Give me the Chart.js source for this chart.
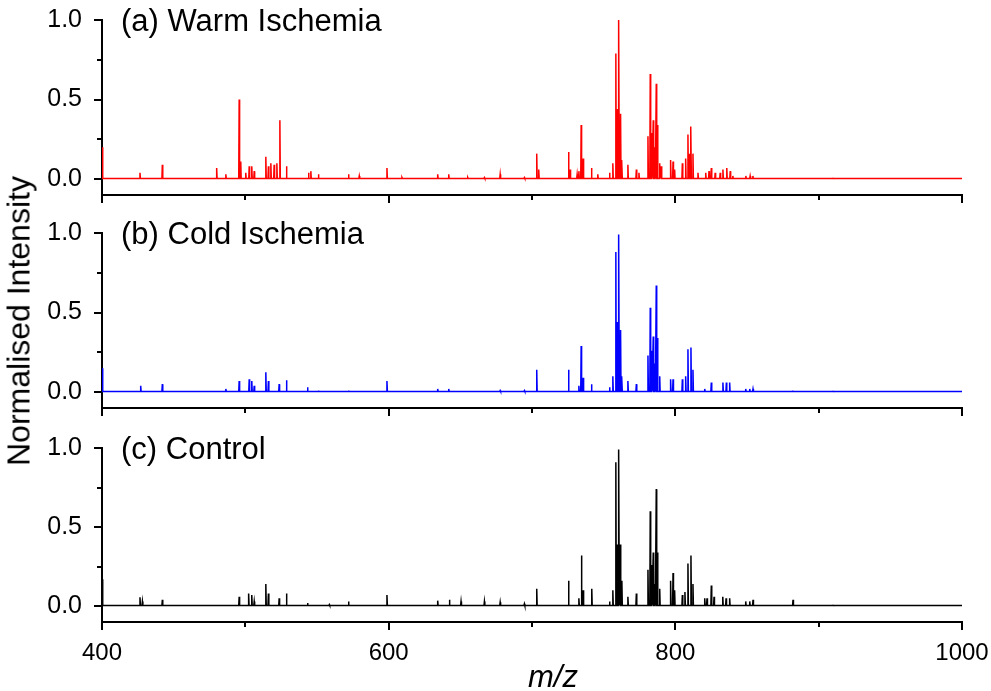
<!DOCTYPE html>
<html>
<head>
<meta charset="utf-8">
<script src="https://cdn.jsdelivr.net/npm/chart.js@4/dist/chart.umd.min.js"></script>
<style>
  body { margin: 0; background: #fff; overflow: hidden; }
  #wrap { position: relative; width: 991px; height: 691px; overflow: hidden; background: #fff; font-family: "Liberation Sans", Arial, sans-serif; }
  #wrap canvas { position: absolute; left: 0; }
  .ytitle { position: absolute; left: 19px; top: 321px; transform: translate(-50%, -50%) rotate(-90deg); font-size: 32px; white-space: nowrap; color: #000; }
  .xtitle { position: absolute; left: 553px; top: 677px; transform: translate(-50%, -50%); font-size: 31px; font-style: italic; color: #000; }
</style>
</head>
<body>
<div id="wrap">
  <canvas id="warm" width="1020" height="235" style="top:-10px"></canvas>
  <canvas id="cold" width="1020" height="235" style="top:203px"></canvas>
  <canvas id="ctrl" width="1020" height="273" style="top:418px"></canvas>
  <div class="ytitle">Normalised Intensity</div>
  <div class="xtitle">m/z</div>
</div>
<script>
// peak lists (m/z, normalised intensity)
var warmMz = [400.2, 426.5, 442.1, 480.0, 486.4, 495.7, 496.8, 500.3, 502.7, 504.5, 506.2, 514.3, 516.1, 517.8, 520.1, 522.0, 524.1, 528.7, 544.1, 545.7, 551.0, 572.0, 579.5, 598.8, 609.3, 634.2, 641.9, 655.2, 666.8, 677.8, 694.7, 703.3, 704.7, 725.5, 726.6, 731.5, 732.7, 734.3, 735.7, 741.5, 745.9, 754.1, 756.4, 758.5, 759.7, 760.6, 761.8, 762.7, 766.9, 772.8, 774.6, 780.9, 782.5, 783.5, 784.6, 785.8, 786.7, 787.6, 789.1, 790.2, 796.7, 798.4, 799.5, 804.9, 807.2, 808.8, 810.0, 810.9, 812.3, 815.8, 821.2, 823.5, 825.1, 827.8, 831.3, 833.2, 835.9, 838.3, 840.1, 849.2, 852.2, 854.1, 910.0];
var warmInt = [0.20, 0.04, 0.09, 0.07, 0.03, 0.50, 0.11, 0.04, 0.08, 0.08, 0.05, 0.14, 0.08, 0.10, 0.09, 0.10, 0.37, 0.08, 0.04, 0.05, 0.03, 0.03, 0.02, 0.07, 0.01, 0.03, 0.03, 0.01, 0.01, 0.03, 0.01, 0.16, 0.06, 0.17, 0.06, 0.03, 0.05, 0.34, 0.13, 0.07, 0.03, 0.04, 0.10, 0.79, 0.44, 1.00, 0.41, 0.12, 0.09, 0.06, 0.04, 0.27, 0.66, 0.29, 0.37, 0.20, 0.60, 0.34, 0.10, 0.08, 0.12, 0.11, 0.06, 0.10, 0.13, 0.28, 0.16, 0.33, 0.16, 0.04, 0.04, 0.05, 0.07, 0.04, 0.04, 0.06, 0.07, 0.05, 0.02, 0.02, 0.02, 0.02, 0.005];

var coldMz = [400.2, 427.0, 442.1, 486.4, 495.7, 502.7, 504.5, 506.2, 514.3, 516.1, 523.6, 528.7, 543.4, 551.0, 572.0, 598.8, 634.2, 641.9, 677.8, 694.7, 703.3, 725.5, 732.7, 734.3, 735.7, 741.5, 754.1, 756.4, 758.5, 759.7, 760.6, 761.8, 762.7, 766.9, 772.8, 780.9, 782.5, 783.5, 784.6, 785.8, 786.7, 787.6, 789.1, 796.7, 798.4, 804.9, 807.2, 808.8, 810.9, 812.3, 820.5, 825.1, 833.2, 835.6, 837.9, 849.1, 851.9, 854.2, 881.7, 910.0];
var coldInt = [0.15, 0.04, 0.05, 0.02, 0.07, 0.08, 0.07, 0.04, 0.125, 0.07, 0.05, 0.075, 0.03, 0.01, 0.01, 0.07, 0.02, 0.02, 0.01, 0.01, 0.14, 0.14, 0.04, 0.29, 0.09, 0.05, 0.03, 0.10, 0.88, 0.44, 0.99, 0.39, 0.10, 0.07, 0.05, 0.23, 0.53, 0.26, 0.35, 0.18, 0.67, 0.34, 0.10, 0.08, 0.08, 0.08, 0.10, 0.27, 0.28, 0.14, 0.02, 0.06, 0.06, 0.06, 0.06, 0.02, 0.02, 0.02, 0.01, 0.005];

var ctrlMz = [400.2, 426.5, 428.2, 442.1, 495.7, 502.3, 504.5, 506.2, 514.3, 516.1, 523.6, 528.7, 543.4, 558.6, 572.0, 598.8, 634.2, 642.4, 650.5, 666.8, 677.8, 694.7, 703.3, 725.5, 732.7, 734.5, 735.7, 741.7, 754.1, 756.4, 758.5, 759.7, 760.6, 761.6, 762.7, 766.9, 772.8, 780.9, 782.5, 783.5, 784.6, 785.8, 786.7, 787.6, 789.1, 796.7, 798.4, 799.5, 804.9, 806.7, 808.8, 810.9, 812.3, 820.5, 822.1, 825.1, 827.0, 833.1, 835.4, 837.9, 849.1, 851.9, 854.2, 882.1, 910.0];
var ctrlInt = [0.17, 0.056, 0.03, 0.04, 0.06, 0.08, 0.07, 0.03, 0.14, 0.08, 0.05, 0.08, 0.02, 0.01, 0.03, 0.07, 0.035, 0.04, 0.03, 0.03, 0.025, 0.015, 0.11, 0.16, 0.05, 0.32, 0.10, 0.11, 0.03, 0.10, 0.91, 0.39, 0.99, 0.39, 0.16, 0.06, 0.08, 0.23, 0.60, 0.26, 0.34, 0.14, 0.74, 0.34, 0.11, 0.16, 0.21, 0.10, 0.07, 0.09, 0.27, 0.32, 0.14, 0.05, 0.05, 0.13, 0.06, 0.06, 0.05, 0.05, 0.03, 0.03, 0.04, 0.04, 0.005];

var xTicks = [400, 600, 800, 1000];
var xMinorTicks = [500, 700, 900];
var yTicks = [0, 0.5, 1.0];
var yMinorTicks = [0.25, 0.75];
var baseline = 0.004;

// turn a peak list into a stick spectrum
function spectrum(mz, inten) {
    var pts = [{x: 400, y: baseline}];
    for (var i = 0; i < mz.length; i++) {
        pts.push({x: mz[i] - 0.3, y: baseline});
        pts.push({x: mz[i], y: inten[i]});
        pts.push({x: mz[i] + 0.3, y: baseline});
    }
    pts.push({x: 1000, y: baseline});
    return pts;
}

var minorTickPlugin = {
    id: 'minorTicks',
    afterDraw(chart) {
        var ctx = chart.ctx, a = chart.chartArea;
        var xs = chart.scales.x, ys = chart.scales.y;
        ctx.save();
        ctx.strokeStyle = '#000';
        ctx.lineWidth = 2;
        ctx.beginPath();
        xMinorTicks.forEach(v => {
            var px = Math.round(xs.getPixelForValue(v));
            ctx.moveTo(px, a.bottom);
            ctx.lineTo(px, a.bottom + 5);
        });
        yMinorTicks.forEach(v => {
            var py = Math.round(ys.getPixelForValue(v));
            ctx.moveTo(a.left, py);
            ctx.lineTo(a.left - 5, py);
        });
        ctx.stroke();
        // panel label
        var txt = chart.options.plugins.minorTicks.label;
        ctx.fillStyle = '#000';
        ctx.font = '31px "Liberation Sans", Arial, sans-serif';
        ctx.textBaseline = 'middle';
        ctx.textAlign = 'left';
        ctx.fillText(txt, a.left + 19, ys.getPixelForValue(1.0) + 2);
        ctx.restore();
    }
};

function makeChart(id, mz, inten, color, label, showX, xHeight) {
    return new Chart(document.getElementById(id), {
        type: 'line',
        data: {
            datasets: [{
                data: spectrum(mz, inten),
                borderColor: color,
                borderWidth: 1.5,
                pointRadius: 0,
                tension: 0,
                fill: false
            }]
        },
        options: {
            responsive: false,
            animation: false,
            devicePixelRatio: 1,
            layout: { padding: { left: 0, right: 58, top: 30, bottom: 0 } },
            plugins: {
                legend: { display: false },
                tooltip: { enabled: false },
                minorTicks: { label: label }
            },
            scales: {
                x: {
                    type: 'linear',
                    min: 400,
                    max: 1000,
                    afterBuildTicks: s => { s.ticks = xTicks.map(v => ({value: v})); },
                    afterFit: s => { s.height = xHeight; },
                    border: { display: true, color: '#000', width: 2 },
                    grid: { display: true, drawOnChartArea: false, drawTicks: true, tickLength: 8, color: '#000', lineWidth: 2, tickWidth: 2, tickColor: '#000' },
                    ticks: {
                        display: showX,
                        maxRotation: 0,
                        padding: 9,
                        color: '#000',
                        font: { family: '"Liberation Sans", Arial, sans-serif', size: 24 },
                        callback: v => String(v)
                    }
                },
                y: {
                    min: -0.1,
                    max: 1.0,
                    afterBuildTicks: s => { s.ticks = yTicks.map(v => ({value: v})); },
                    afterFit: s => { s.width = 102; },
                    border: { display: true, color: '#000', width: 2 },
                    grid: { display: true, drawOnChartArea: false, drawTicks: true, tickLength: 8, color: '#000', lineWidth: 2, tickWidth: 2, tickColor: '#000' },
                    ticks: {
                        padding: 12,
                        color: '#000',
                        font: { family: '"Liberation Sans", Arial, sans-serif', size: 25 },
                        callback: v => Number(v).toFixed(1)
                    }
                }
            }
        },
        plugins: [minorTickPlugin]
    });
}

makeChart('warm', warmMz, warmInt, '#ff0000', '(a) Warm Ischemia', false, 30);
makeChart('cold', coldMz, coldInt, '#0000ff', '(b) Cold Ischemia', false, 30);
makeChart('ctrl', ctrlMz, ctrlInt, '#000000', '(c) Control', true, 69);
</script>
</body>
</html>
